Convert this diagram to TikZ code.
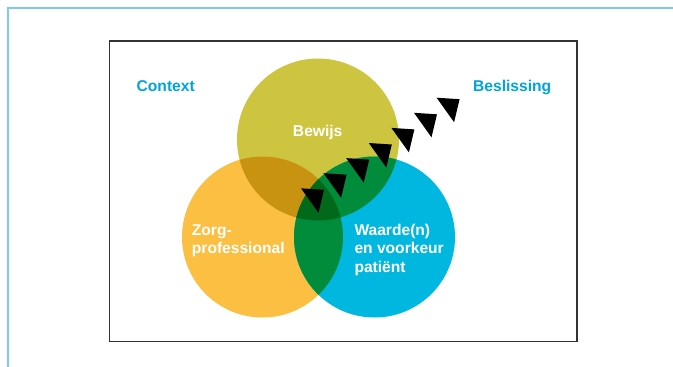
\documentclass[tikz,border=0pt]{standalone}
\usepackage{fontspec}
\setmainfont{Liberation Sans}
\usepackage{tikz}

\definecolor{framecol}{RGB}{124,203,232}
\definecolor{titlecol}{RGB}{0,163,218}
\definecolor{bewijscol}{RGB}{205,197,63}
\definecolor{zorgcol}{RGB}{251,191,65}
\definecolor{patientcol}{RGB}{0,183,224}
\definecolor{browncol}{RGB}{201,147,18}
\definecolor{greencol}{RGB}{0,140,58}
\definecolor{darkgreencol}{RGB}{0,106,26}

\begin{document}
\begin{tikzpicture}[x=1pt,y=-1pt,
	bigtext/.style={font=\bfseries\fontsize{15.6}{18.8}\selectfont,inner sep=0pt},
	titletext/.style={bigtext,text=titlecol,anchor=base west},
	circletext/.style={bigtext,text=white,align=left,anchor=base west}]
	\useasboundingbox (0,0) rectangle (673,367);

	% Frames
	\draw[framecol,line width=2.5pt] (8,367) -- (8,8) -- (673,8);
	\draw[black!80,line width=1.1pt] (109.5,41) rectangle (577,341.5);

	% Circles
	\fill[bewijscol] (318,139.5) circle[radius=81pt];
	\fill[zorgcol] (262.5,237) circle[radius=80.5pt];
	\fill[patientcol] (374.5,237) circle[radius=80.5pt];

	% Overlaps
	\begin{scope}
		\clip (318,139.5) circle[radius=81pt];
		\fill[browncol] (262.5,237) circle[radius=80.5pt];
	\end{scope}
	\begin{scope}
		\clip (374.5,237) circle[radius=80.5pt];
		\fill[greencol] (318,139.5) circle[radius=81pt];
		\fill[greencol] (262.5,237) circle[radius=80.5pt];
	\end{scope}
	\begin{scope}
		\clip (318,139.5) circle[radius=81pt];
		\clip (262.5,237) circle[radius=80.5pt];
		\fill[darkgreencol] (374.5,237) circle[radius=80.5pt];
	\end{scope}

	% Labels (base of a multi-line node is its last line)
	\node (context) at (136.5,91) [titletext] {Context};
	\node (beslissing) at (473,91) [titletext] {Beslissing};
	\node (bewijs) at (317.7,136.7) [bigtext,text=white,anchor=base] {Bewijs};
	\node (zorg) at (191.7,253.8) [circletext] {Zorg-\\professional};
	\node (patient) at (354.3,272.6) [circletext] {Waarde(n)\\en voorkeur\\patiënt};

	% Arrow heads towards the decision
	\foreach \i in {0,...,6}
		\fill[black] ({301+22.6*\i},{188.3-15.1*\i}) -- ++(23,1.5) -- ++(-5.5,23) -- cycle;
\end{tikzpicture}
\end{document}
